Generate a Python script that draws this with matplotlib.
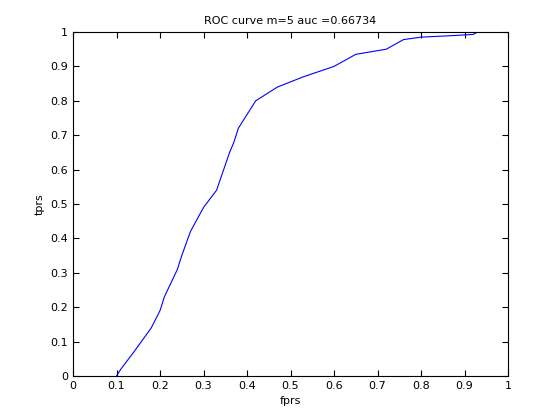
import matplotlib
matplotlib.use("Agg")
import matplotlib.pyplot as plt
import numpy as np

fprs = [0.10, 0.11, 0.14, 0.18, 0.20, 0.21, 0.24, 0.25, 0.27, 0.30, 0.33, 0.36,
        0.37, 0.38, 0.40, 0.42, 0.47, 0.53, 0.60, 0.65, 0.72, 0.76, 0.80, 0.88, 0.92, 0.93]
tprs = [0.00, 0.02, 0.07, 0.14, 0.19, 0.23, 0.31, 0.35, 0.42, 0.49, 0.54, 0.65,
        0.68, 0.72, 0.76, 0.80, 0.84, 0.87, 0.90, 0.935, 0.95, 0.978, 0.985, 0.99, 0.993, 1.0]

fig = plt.figure(figsize=(5.6, 4.2), dpi=100)
ax = fig.add_axes([73/560, 1-376/420, 435/560, 344/420])
ax.plot(fprs, tprs, color='#0000ff', linewidth=0.8)
ax.set_xlim(0, 1)
ax.set_ylim(0, 1)
ax.set_xticks(np.arange(0, 1.01, 0.1))
ax.set_yticks(np.arange(0, 1.01, 0.1))
ax.set_xticklabels(['0', '0.1', '0.2', '0.3', '0.4', '0.5', '0.6', '0.7', '0.8', '0.9', '1'])
ax.set_yticklabels(['0', '0.1', '0.2', '0.3', '0.4', '0.5', '0.6', '0.7', '0.8', '0.9', '1'])
ax.tick_params(direction='in', labelsize=8, top=True, right=True, length=4)
ax.set_xlabel('fprs', fontsize=8)
ax.set_ylabel('tprs', fontsize=8)
ax.set_title('ROC curve m=5 auc =0.66734', fontsize=8)
fig.savefig('out.png', dpi=100)
